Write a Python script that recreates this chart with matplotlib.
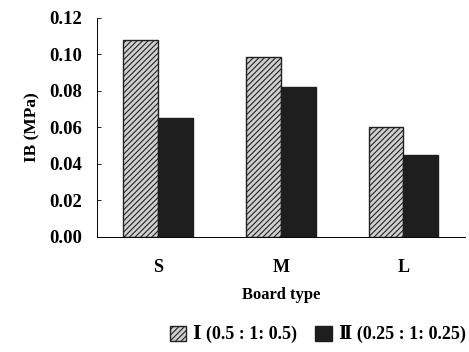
import matplotlib.pyplot as plt
import numpy as np

plt.rcParams['font.family'] = ['Liberation Serif', 'DejaVu Serif']
plt.rcParams['font.weight'] = 'bold'
plt.rcParams['axes.labelweight'] = 'bold'
plt.rcParams['hatch.linewidth'] = 0.8

boards = ["S", "M", "L"]
ib_ratio1 = [0.108, 0.0985, 0.060]
ib_ratio2 = [0.065, 0.082, 0.045]
labels = ["\u2160 (0.5 : 1: 0.5)", "\u2161 (0.25 : 1: 0.25)"]
yticks = [0.00, 0.02, 0.04, 0.06, 0.08, 0.10, 0.12]


def plot_ib():
    fig = plt.figure(figsize=(4.69, 3.52), dpi=100)
    ax = fig.add_axes([0.207, 0.327, 0.784, 0.622])
    x = np.arange(len(boards))
    w = 0.285
    ax.bar(x - w / 2, ib_ratio1, w, color="#d0d0d0", edgecolor="#222222",
           hatch="//////", linewidth=1.0, label=labels[0])
    ax.bar(x + w / 2, ib_ratio2, w, color="#1e1e1e", edgecolor="#1e1e1e",
           linewidth=1.0, label=labels[1])

    ax.set_xlim(-0.5, 2.5)
    ax.set_ylim(0, 0.12)
    ax.set_yticks(yticks)
    ax.set_yticklabels([f"{v:.2f}" for v in yticks], fontsize=13.5)
    ax.set_xticks(x)
    ax.set_xticklabels(boards, fontsize=13)
    ax.tick_params(axis="y", direction="in", length=3, width=0.6, pad=11)
    ax.tick_params(axis="x", length=0, pad=16)
    for s in ["top", "right"]:
        ax.spines[s].set_visible(False)
    ax.spines["left"].set_linestyle((0, (1, 1)))
    ax.spines["left"].set_linewidth(0.7)
    ax.spines["bottom"].set_linewidth(0.7)

    ax.set_ylabel("IB (MPa)", fontsize=12.5, labelpad=6)
    ax.set_xlabel("Board type", fontsize=12, labelpad=8)
    ax.legend(loc="upper center", bbox_to_anchor=(0.6, -0.33), ncol=2,
              frameon=False, fontsize=13, handlelength=0.9, handleheight=0.9,
              handletextpad=0.4, columnspacing=1.0)
    fig.savefig("out.png", dpi=100)


def main():
    plot_ib()


if __name__ == "__main__":
    main()
